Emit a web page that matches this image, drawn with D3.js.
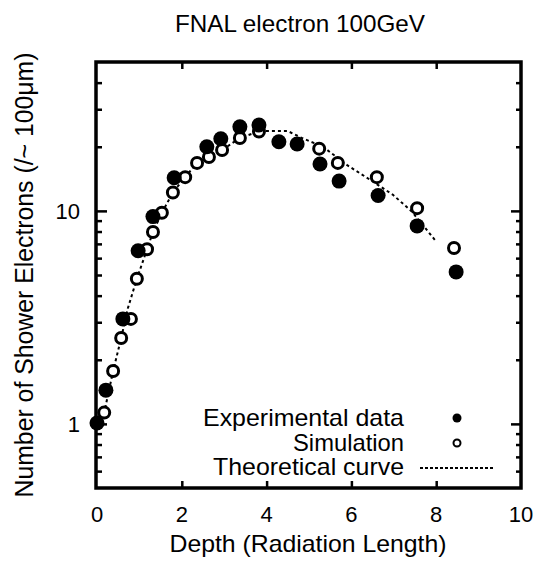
<!DOCTYPE html>
<meta charset="utf-8">
<style>
body { margin: 0; background: #fff; }
text { font-family: "Liberation Sans", Arial, sans-serif; fill: #000; }
</style>
<body>
<div id="chart"></div>
<script src="https://d3js.org/d3.v7.min.js"></script>
<script>
// Experimental data (filled circles)
var expDepth = [0, 0.21, 0.61, 0.97, 1.32, 1.82, 2.59, 2.92, 3.37, 3.82, 4.29, 4.72, 5.26, 5.71, 6.63, 7.55, 8.47];
var expCount = [1.01, 1.44, 3.11, 6.5, 9.4, 14.3, 20.0, 21.8, 24.8, 25.3, 21.1, 20.6, 16.6, 13.8, 11.8, 8.5, 5.17];
// Simulation (open circles)
var simDepth = [0.17, 0.38, 0.57, 0.80, 0.94, 1.18, 1.32, 1.53, 1.79, 2.08, 2.36, 2.64, 2.95, 3.37, 3.82, 5.24, 5.68, 6.60, 7.55, 8.42];
var simCount = [1.13, 1.77, 2.53, 3.11, 4.8, 6.6, 7.96, 9.8, 12.2, 14.4, 16.8, 17.9, 19.3, 22.0, 23.6, 19.6, 16.8, 14.4, 10.3, 6.7];
// Theoretical curve (dotted)
var curveDepth = [0, 0.17, 0.38, 0.57, 0.73, 0.94, 1.18, 1.32, 1.53, 1.79, 2.08, 2.36, 2.64, 2.95, 3.37, 3.84, 4.5, 4.83, 5.33, 5.90, 6.44, 6.98, 7.43, 7.97];
var curveCount = [1.0, 1.13, 1.77, 2.53, 3.5, 4.8, 6.6, 7.96, 9.8, 12.2, 14.4, 16.8, 17.9, 19.3, 22.0, 23.7, 23.7, 22.0, 20.0, 16.4, 14.0, 11.9, 9.9, 7.3];

var xTicks = [0, 2, 4, 6, 8, 10];
var yMajor = [1, 10];
var yMinor = [0.6, 0.7, 0.8, 0.9, 2, 3, 4, 5, 6, 7, 8, 9, 20, 30, 40];
var legendLabels = ["Experimental data", "Simulation", "Theoretical curve"];

var W = 538, H = 563;
var plot = {left: 97, right: 521, top: 62, bottom: 488};

var x = d3.scaleLinear().domain([0, 10]).range([plot.left, plot.right]);
var y = d3.scaleLog().domain([0.5, 50]).range([plot.bottom, plot.top]);

var svg = d3.select("#chart").append("svg")
    .attr("width", W).attr("height", H);

// title
svg.append("text")
    .attr("x", 300).attr("y", 32)
    .attr("text-anchor", "middle")
    .style("font-size", "24px")
    .attr("textLength", 250).attr("lengthAdjust", "spacingAndGlyphs")
    .text("FNAL electron 100GeV");

function tidy(g) {
    g.select(".domain").remove();
    g.selectAll("line").attr("stroke-width", 2.5);
}

// ticks: bottom / top (inward)
svg.append("g")
    .attr("transform", "translate(0," + plot.bottom + ")")
    .call(d3.axisBottom(x).tickValues(xTicks.slice(1, -1)).tickSize(-7).tickFormat(""))
    .call(tidy);
svg.append("g")
    .attr("transform", "translate(0," + plot.top + ")")
    .call(d3.axisTop(x).tickValues(xTicks.slice(1, -1)).tickSize(-7).tickFormat(""))
    .call(tidy);

// y ticks left / right
[[d3.axisLeft, plot.left], [d3.axisRight, plot.right]].forEach(function(a) {
    svg.append("g")
        .attr("transform", "translate(" + a[1] + ",0)")
        .call(a[0](y).tickValues(yMajor).tickSize(-10).tickFormat(""))
        .call(tidy);
    svg.append("g")
        .attr("transform", "translate(" + a[1] + ",0)")
        .call(a[0](y).tickValues(yMinor).tickSize(-5).tickFormat(""))
        .call(tidy);
});

// tick labels
svg.append("g").selectAll("text")
    .data(xTicks).enter().append("text")
    .attr("x", function(d) { return x(d); })
    .attr("y", 522)
    .attr("text-anchor", "middle")
    .style("font-size", "22px")
    .text(function(d) { return d; });
svg.append("g").selectAll("text")
    .data(yMajor).enter().append("text")
    .attr("x", 80)
    .attr("y", function(d) { return y(d) + 8; })
    .attr("text-anchor", "end")
    .style("font-size", "22px")
    .text(function(d) { return d; });

// axis labels
svg.append("text")
    .attr("x", 308).attr("y", 552)
    .attr("text-anchor", "middle")
    .style("font-size", "24px")
    .attr("textLength", 277).attr("lengthAdjust", "spacingAndGlyphs")
    .text("Depth (Radiation Length)");
svg.append("text")
    .attr("transform", "translate(33,275) rotate(-90)")
    .attr("text-anchor", "middle")
    .style("font-size", "25px")
    .attr("textLength", 445).attr("lengthAdjust", "spacingAndGlyphs")
    .text("Number of Shower Electrons (/~ 100\u03bcm)");

// theoretical curve
var line = d3.line()
    .x(function(d) { return x(d[0]); })
    .y(function(d) { return y(d[1]); });
svg.append("path")
    .datum(d3.zip(curveDepth, curveCount))
    .attr("d", line)
    .attr("fill", "none")
    .attr("stroke", "#000")
    .attr("stroke-width", 2)
    .attr("stroke-dasharray", "3,3");

// simulation
svg.append("g").selectAll("circle")
    .data(d3.zip(simDepth, simCount)).enter().append("circle")
    .attr("cx", function(d) { return x(d[0]); })
    .attr("cy", function(d) { return y(d[1]); })
    .attr("r", 5.5)
    .attr("fill", "#fff")
    .attr("stroke", "#000")
    .attr("stroke-width", 3);

// experimental
svg.append("g").selectAll("circle")
    .data(d3.zip(expDepth, expCount)).enter().append("circle")
    .attr("cx", function(d) { return x(d[0]); })
    .attr("cy", function(d) { return y(d[1]); })
    .attr("r", 7.5)
    .attr("fill", "#000");

// frame
svg.append("rect")
    .attr("x", plot.left - 1).attr("y", plot.top)
    .attr("width", plot.right - plot.left + 1).attr("height", plot.bottom - plot.top)
    .attr("fill", "none")
    .attr("stroke", "#000")
    .attr("stroke-width", 3.5);

// legend
var legW = [201, 111, 191];
var leg = svg.append("g");
legendLabels.forEach(function(t, i) {
    leg.append("text")
        .attr("x", 404).attr("y", 426 + i * 24.5)
        .attr("text-anchor", "end")
        .style("font-size", "24px")
        .attr("textLength", legW[i]).attr("lengthAdjust", "spacingAndGlyphs")
        .text(t);
});
leg.append("circle").attr("cx", 457).attr("cy", 418).attr("r", 4.5).attr("fill", "#000");
leg.append("circle").attr("cx", 457).attr("cy", 443).attr("r", 3.5)
    .attr("fill", "#fff").attr("stroke", "#000").attr("stroke-width", 2);
leg.append("line")
    .attr("x1", 420).attr("x2", 493).attr("y1", 468).attr("y2", 468)
    .attr("stroke", "#000").attr("stroke-width", 2).attr("stroke-dasharray", "3,2");
</script>
</body>
